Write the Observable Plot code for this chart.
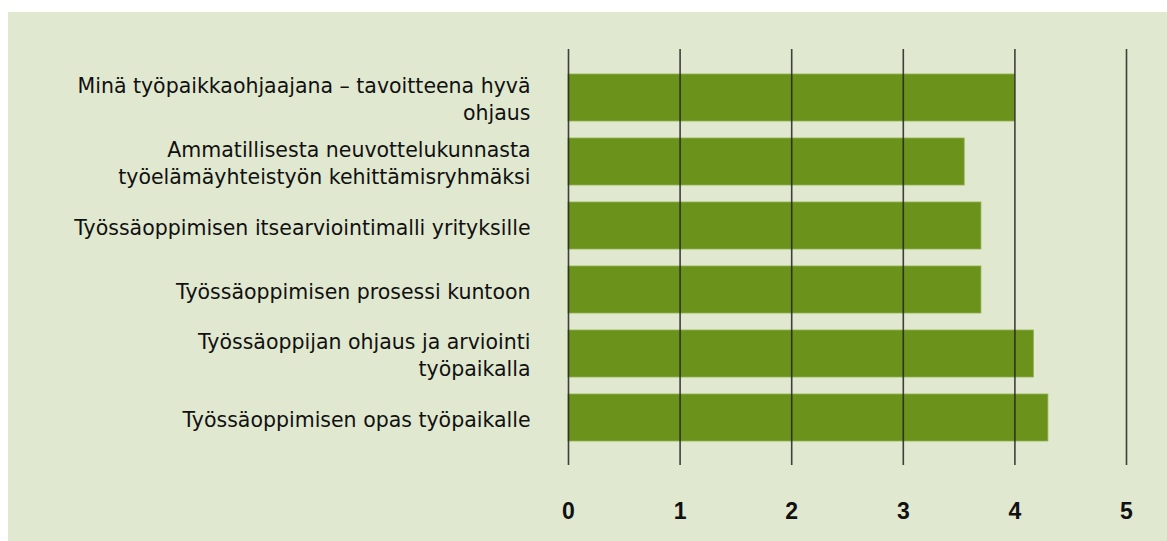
<!DOCTYPE html>
<html>
<head>
<meta charset="utf-8">
<script src="https://cdn.jsdelivr.net/npm/d3@7"></script>
<script src="https://cdn.jsdelivr.net/npm/@observablehq/plot@0.6"></script>
<style>
  html, body { margin: 0; padding: 0; background: #ffffff; }
  #chart { position: absolute; left: 8px; top: 12px; width: 1159px; height: 529px; background: #e1e8d0; }
  #chart svg { background: transparent; }
</style>
</head>
<body>
<div id="chart"></div>
<script>
const categories = [
  "Minä työpaikkaohjaajana – tavoitteena hyvä ohjaus",
  "Ammatillisesta neuvottelukunnasta työelämäyhteistyön kehittämisryhmäksi",
  "Työssäoppimisen itsearviointimalli yrityksille",
  "Työssäoppimisen prosessi kuntoon",
  "Työssäoppijan ohjaus ja arviointi työpaikalla",
  "Työssäoppimisen opas työpaikalle"
];
const categoryLabels = [
  "Minä työpaikkaohjaajana – tavoitteena hyvä\nohjaus",
  "Ammatillisesta neuvottelukunnasta\ntyöelämäyhteistyön kehittämisryhmäksi",
  "Työssäoppimisen itsearviointimalli yrityksille",
  "Työssäoppimisen prosessi kuntoon",
  "Työssäoppijan ohjaus ja arviointi\ntyöpaikalla",
  "Työssäoppimisen opas työpaikalle"
];
const values = [4.0, 3.55, 3.7, 3.7, 4.17, 4.3];
const xTicks = [0, 1, 2, 3, 4, 5];

const data = categories.map((c, i) => ({category: c, value: values[i]}));
const labelOf = new Map(categories.map((c, i) => [c, categoryLabels[i]]));

const chart = Plot.plot({
  width: 1159,
  height: 529,
  marginLeft: 560,
  marginRight: 41,
  marginTop: 37,
  marginBottom: 76,
  style: {background: "transparent", fontFamily: "Liberation Sans, Arial, sans-serif", color: "#111"},
  x: {domain: [0, 5]},
  y: {domain: categories, paddingInner: 0.27, paddingOuter: 0.375},
  marks: [
    Plot.barX(data, {x: "value", y: "category", fill: "#6b921b", stroke: "#8fb04f", strokeWidth: 0.8}),
    Plot.ruleX(xTicks, {stroke: "#222", strokeWidth: 1.6, strokeOpacity: 0.85}),
    Plot.axisX(xTicks, {tickSize: 0, tickPadding: 37, fontSize: 23, fontWeight: "bold", label: null, fill: "#111", tickFormat: d => String(d)}),
    Plot.axisY({tickSize: 0, tickPadding: 38, fontSize: 20.5, fontFamily: "DejaVu Sans, sans-serif", label: null, lineHeight: 1.32, fill: "#111", tickFormat: d => labelOf.get(d), lineWidth: Infinity})
  ]
});
document.getElementById("chart").appendChild(chart);
</script>
</body>
</html>
